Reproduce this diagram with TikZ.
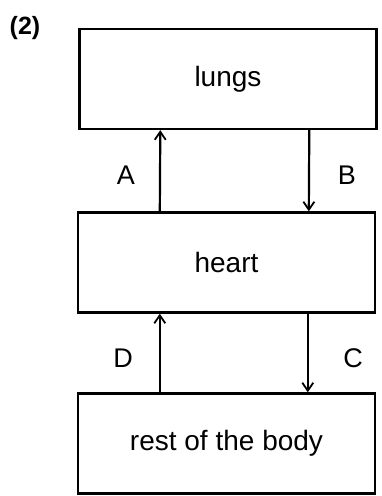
\documentclass[tikz,border=0pt]{standalone}
\usepackage{fontspec}
\setmainfont{Liberation Sans}
\usetikzlibrary{arrows.meta}
\begin{document}
\begin{tikzpicture}[x=1pt,y=1pt,
  box/.style={draw=black,line width=2.4pt,minimum width=297pt,minimum height=100pt,inner sep=0pt,font=\fontsize{28}{31}\selectfont},
  arr/.style={line width=2.2pt,-{Straight Barb[length=8pt,width=11pt,line width=1.8pt]}},
  lbl/.style={font=\fontsize{27}{30}\selectfont}]
\useasboundingbox (0,0) rectangle (381,496);
\node[box] (lungs) at (228,417) {lungs};
\node[box] (heart) at (226.5,233.5) {heart};
\node[box] (body) at (226.5,52.5) {rest of the body};
\node[font=\bfseries\fontsize{25}{28}\selectfont] (num) at (25,468) {(2)};
\draw[arr] ([xshift=83pt]heart.north west) -- ([xshift=82pt]lungs.south west);
\draw[arr] ([xshift=231pt]lungs.south west) -- ([xshift=232pt]heart.north west);
\draw[arr] ([xshift=83pt]body.north west) -- ([xshift=83pt]heart.south west);
\draw[arr] ([xshift=231pt]heart.south west) -- ([xshift=231pt]body.north west);
\node[lbl] (A) at (126,321) {A};
\node[lbl] (B) at (347,321) {B};
\node[lbl] (D) at (123,138) {D};
\node[lbl] (C) at (353,138) {C};
\end{tikzpicture}
\end{document}
